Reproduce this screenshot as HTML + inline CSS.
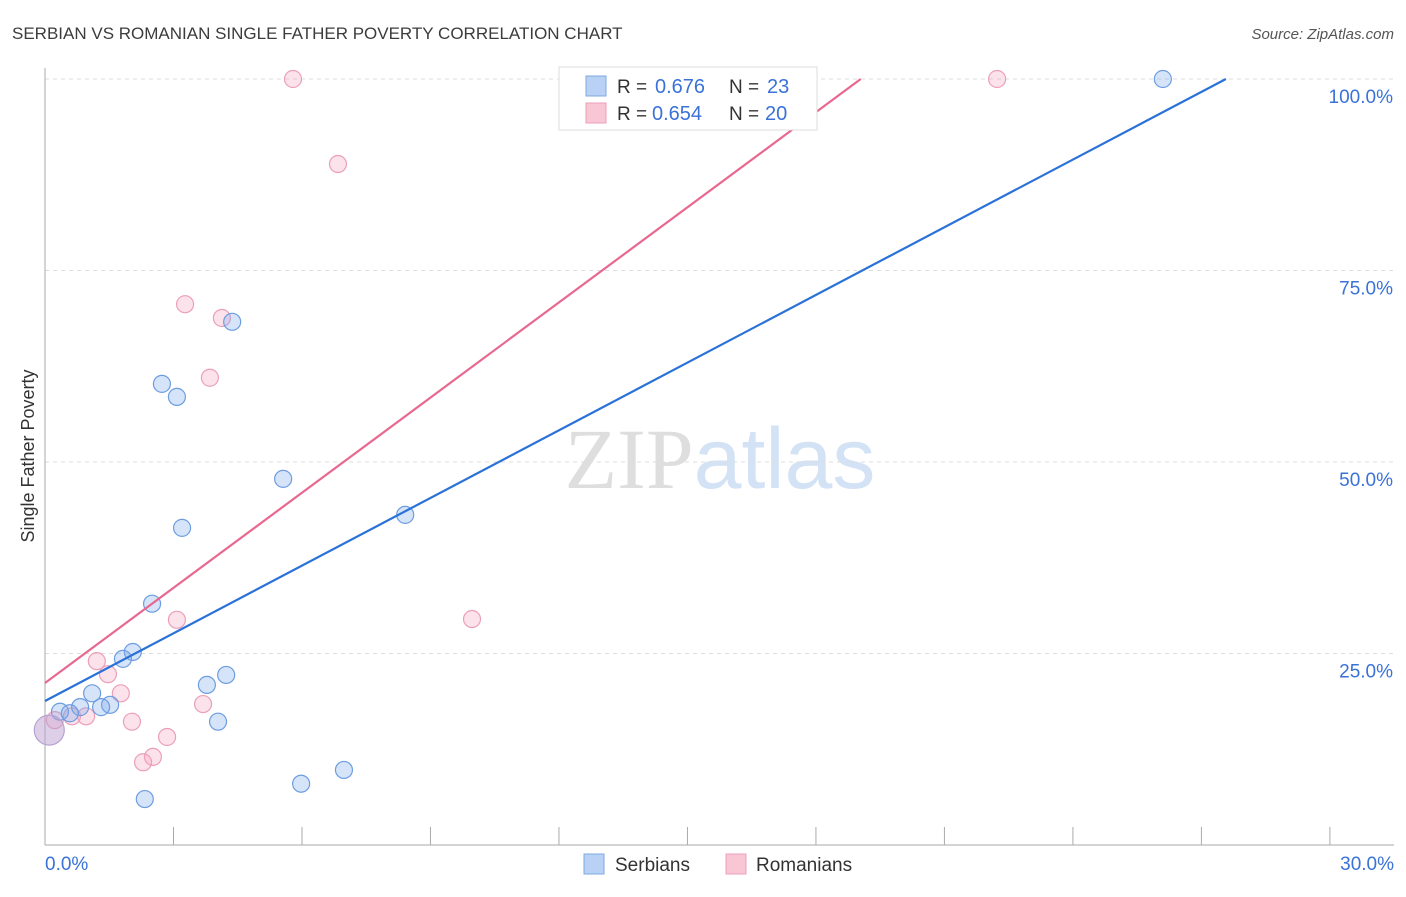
<!DOCTYPE html>
<html><head><meta charset="utf-8"><style>
body{margin:0;background:#fff;font-family:"Liberation Sans",sans-serif;}
svg text{font-family:"Liberation Sans",sans-serif;}
</style></head><body>
<svg id="chart" width="1406" height="892" xmlns="http://www.w3.org/2000/svg">
<text x="12" y="39" font-size="17" fill="#3c3c3c">SERBIAN VS ROMANIAN SINGLE FATHER POVERTY CORRELATION CHART</text>
<text x="1394" y="39" font-size="15" fill="#555" text-anchor="end" font-style="italic">Source: ZipAtlas.com</text>
<text x="720" y="488" font-size="86" text-anchor="middle"><tspan fill="#dedede" font-family="Liberation Serif">ZIP</tspan><tspan fill="#d3e2f5">atlas</tspan></text>
<text transform="translate(34,456) rotate(-90)" font-size="18" fill="#333" text-anchor="middle">Single Father Poverty</text>
<g id="grid"></g><g id="axes"></g><g id="marks"></g>
<g>
<rect x="559" y="67" width="258" height="63" fill="#fff" stroke="#ddd"/>
<rect x="586" y="76" width="20" height="20" fill="#b9d1f4" stroke="#7fa8e0"/>
<text x="617" y="93" font-size="19" fill="#333">R =</text>
<text x="655" y="93" font-size="20" fill="#3a72d8">0.676</text>
<text x="729" y="93" font-size="19" fill="#333">N =</text>
<text x="767" y="93" font-size="20" fill="#3a72d8">23</text>
<rect x="586" y="103" width="20" height="20" fill="#f8c6d4" stroke="#eba0b8"/>
<text x="617" y="120" font-size="19" fill="#333">R =</text>
<text x="652" y="120" font-size="20" fill="#3a72d8">0.654</text>
<text x="729" y="120" font-size="19" fill="#333">N =</text>
<text x="765" y="120" font-size="20" fill="#3a72d8">20</text>
</g>
<g>
<rect x="584" y="854" width="20" height="20" fill="#b9d1f4" stroke="#7fa8e0"/>
<text x="615" y="871" font-size="19" fill="#333">Serbians</text>
<rect x="726" y="854" width="20" height="20" fill="#f8c6d4" stroke="#eba0b8"/>
<text x="756" y="871" font-size="19" fill="#333">Romanians</text>
</g>
</svg>
<script>
const serbX=[26.10,4.37,2.73,3.08,5.56,3.20,8.41,2.50,2.05,1.82,4.23,3.78,1.10,1.52,0.82,1.31,0.35,0.58,4.04,2.33,5.98,6.98];
const serbY=[100,68.3,60.2,58.5,47.8,41.4,43.1,31.5,25.2,24.3,22.2,20.9,19.8,18.3,18.0,18.0,17.4,17.2,16.1,6.0,8.0,9.8];
const romX=[5.79,22.23,6.84,3.27,4.13,3.85,9.97,3.08,1.21,1.47,1.77,3.69,0.96,0.63,0.23,2.03,2.85,2.52,2.29];
const romY=[100,100,88.9,70.6,68.8,61.0,29.5,29.4,24.0,22.3,19.8,18.4,16.8,16.8,16.3,16.1,14.1,11.5,10.8];
const bigX=[0.1], bigY=[15.0];
const serbTrend=[18.8,2.945];
const romTrend=[21.15,4.14];
const yTicks=[25,50,75,100];
const xTickLabels=["0.0%","30.0%"];
const ns="http://www.w3.org/2000/svg";
const sx=v=>45+v*42.83, sy=v=>845-v*7.66;
function mk(t,a,p){const e=document.createElementNS(ns,t);for(const k in a)e.setAttribute(k,a[k]);p.appendChild(e);return e;}
const grid=document.getElementById('grid'),axes=document.getElementById('axes'),marks=document.getElementById('marks');
yTicks.forEach(v=>{
 const l=mk('line',{x1:45,x2:1394,y1:sy(v),y2:sy(v),stroke:'#ddd','stroke-dasharray':'4,4'},grid);
 
 
 const t=mk('text',{x:1393,y:sy(v)+24,'font-size':19,fill:'#3a72d8','text-anchor':'end'},grid);
 t.textContent=v.toFixed(1)+'%';
 
 
});
mk('line',{x1:45,x2:45,y1:68,y2:845,stroke:'#aaa'},axes);
mk('line',{x1:45,x2:1394,y1:845,y2:845,stroke:'#aaa'},axes);
for(let i=1;i<=10;i++){const l=mk('line',{x1:sx(i*3),x2:sx(i*3),y1:827,y2:845,stroke:'#aaa'},axes);
 
 }
const t0=mk('text',{x:45,y:870,'font-size':19,fill:'#3a72d8'},axes);t0.textContent=xTickLabels[0];


const t1=mk('text',{x:1394,y:870,'font-size':19,fill:'#3a72d8','text-anchor':'end'},axes);t1.textContent=xTickLabels[1];


function trend(tr,col,name){const x2=Math.min(30,(100-tr[0])/tr[1]);
 const l=mk('line',{x1:sx(0),y1:sy(tr[0]),x2:sx(x2),y2:sy(tr[0]+tr[1]*x2),stroke:col,'stroke-width':2.2},marks);
 
 }
function pts(X,Y,fill,st,r,name){X.forEach((x,i)=>{const c=mk('circle',{cx:sx(x),cy:sy(Y[i]),r:r,fill:fill,stroke:st,'stroke-width':1.2},marks);
 
 });}
pts(romX,romY,'rgba(244,160,188,0.3)','#eba0b8',8.5,'romanian-point');
pts(serbX,serbY,'rgba(120,165,235,0.3)','#6d9de0',8.5,'serbian-point');
pts(bigX,bigY,'rgba(190,160,210,0.5)','#b7a2d2',15,'overlap-point');
trend(romTrend,'#e8688f','romanian-trendline');
trend(serbTrend,'#2a72d8','serbian-trendline');
</script>
</body></html>
